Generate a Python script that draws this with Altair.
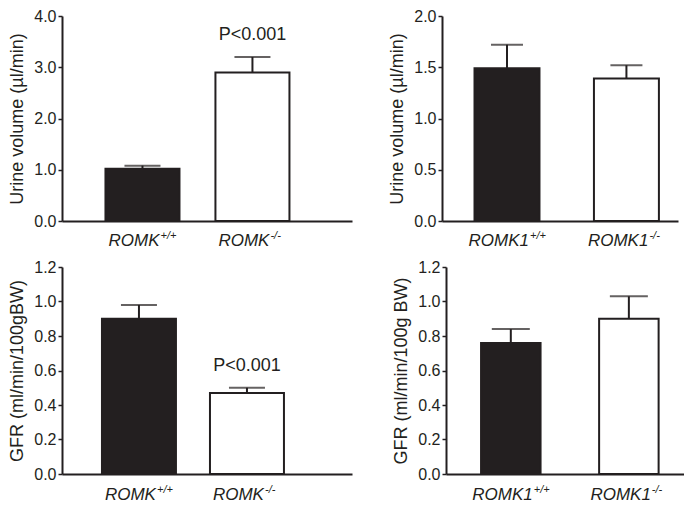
import altair as alt
import pandas as pd

FONT = "Liberation Sans"
INK = "#231f20"

# categories / labels
groups_romk = ["ROMK+/+", "ROMK-/-"]
groups_romk1 = ["ROMK1+/+", "ROMK1-/-"]
main_romk = ["ROMK", "ROMK"]
main_romk1 = ["ROMK1", "ROMK1"]
sups = ["+/+", "-/-"]
fills = [INK, "#ffffff"]

# values (mean, SEM)
uv_romk_mean = [1.02, 2.90]
uv_romk_sem = [0.06, 0.30]
uv_romk_p = ["", "P<0.001"]

uv_romk1_mean = [1.49, 1.39]
uv_romk1_sem = [0.23, 0.13]
uv_romk1_p = ["", ""]

gfr_romk_mean = [0.90, 0.47]
gfr_romk_sem = [0.08, 0.03]
gfr_romk_p = ["", "P<0.001"]

gfr_romk1_mean = [0.76, 0.90]
gfr_romk1_sem = [0.08, 0.13]
gfr_romk1_p = ["", ""]

# axis tick values
uv_romk_ticks = [0.0, 1.0, 2.0, 3.0, 4.0]
uv_romk1_ticks = [0.0, 0.5, 1.0, 1.5, 2.0]
gfr_ticks = [0.0, 0.2, 0.4, 0.6, 0.8, 1.0, 1.2]


def panel(groups, mains, means, sems, pvals, ytitle, ticks, width, height,
          p_inner, p_outer, align, cap, main_dx, lab_off):
    df = pd.DataFrame({
        "group": groups,
        "main": mains,
        "sup": sups,
        "fill": fills,
        "mean": means,
        "sem": sems,
        "p": pvals,
    })
    df["top"] = df["mean"] + df["sem"]
    base = alt.Chart(df)
    x = alt.X("group:N", sort=groups,
              scale=alt.Scale(domain=groups, paddingInner=p_inner,
                              paddingOuter=p_outer, align=align),
              axis=alt.Axis(title=None, labels=False, ticks=False,
                            domainColor=INK, domainWidth=2))
    y = alt.Y("mean:Q",
              scale=alt.Scale(domain=[ticks[0], ticks[-1]], nice=False),
              axis=alt.Axis(title=ytitle, values=ticks, format=".1f",
                            tickCount=len(ticks) + 2,
                            grid=False, labelOverlap=False))
    bars = base.mark_bar(stroke=INK, strokeWidth=2).encode(
        x=x, y=y, fill=alt.Fill("fill:N", scale=None))
    err = base.mark_rule(color=INK, strokeWidth=2).encode(
        x=x, y="mean:Q", y2="top:Q")
    caps = base.mark_tick(color=INK, thickness=2, size=cap).encode(
        x=x, y="top:Q")
    ptxt = base.mark_text(baseline="alphabetic", dy=-17, fontSize=18,
                          font=FONT, color=INK).encode(
        x=x, y="top:Q", text="p:N")
    lab = base.mark_text(align="right", baseline="alphabetic", dx=main_dx,
                         fontSize=17, fontStyle="italic", font=FONT,
                         color=INK).encode(
        x=x, y=alt.value(height + lab_off), text="main:N")
    sup = base.mark_text(align="left", baseline="alphabetic", dx=main_dx + 1,
                         fontSize=11, fontStyle="italic", font=FONT,
                         color=INK).encode(
        x=x, y=alt.value(height + lab_off - 7), text="sup:N")
    return alt.layer(bars, err, caps, ptxt, lab, sup).properties(
        width=width, height=height)


tl = panel(groups_romk, main_romk, uv_romk_mean, uv_romk_sem, uv_romk_p,
           "Urine volume (µl/min)", uv_romk_ticks, 290, 205,
           0.327, 0.482, 0.41, 36, 17, 25)
tr = panel(groups_romk1, main_romk1, uv_romk1_mean, uv_romk1_sem, uv_romk1_p,
           "Urine volume (µl/min)", uv_romk1_ticks, 236, 205,
           0.456, 0.216, 0.63, 32, 22, 25)
bl = panel(groups_romk, main_romk, gfr_romk_mean, gfr_romk_sem, gfr_romk_p,
           "GFR (ml/min/100gBW)", gfr_ticks, 290, 207,
           0.315, 0.5, 0.37, 36, 17, 26)
br = panel(groups_romk1, main_romk1, gfr_romk1_mean, gfr_romk1_sem, gfr_romk1_p,
           "GFR (ml/min/100g BW)", gfr_ticks, 238, 207,
           0.496, 0.256, 0.58, 38, 22, 26)

row1 = alt.hconcat(tl, tr, spacing=36)
row2 = alt.hconcat(bl, br, spacing=40)
chart = alt.vconcat(row1, row2, spacing=10).properties(
    padding=0
).configure_view(stroke=None).configure_axisY(
    domainColor=INK, domainWidth=2, tickColor=INK, tickWidth=1.5, tickSize=4,
    labelFont=FONT, labelFontSize=16, labelColor=INK, labelPadding=2,
    titleFont=FONT, titleFontSize=18, titleFontWeight="normal",
    titleColor=INK, titlePadding=7
).configure_axisX(domainColor=INK, domainWidth=2)

chart.save("out.html", embed_options={"renderer": "svg", "actions": False})
